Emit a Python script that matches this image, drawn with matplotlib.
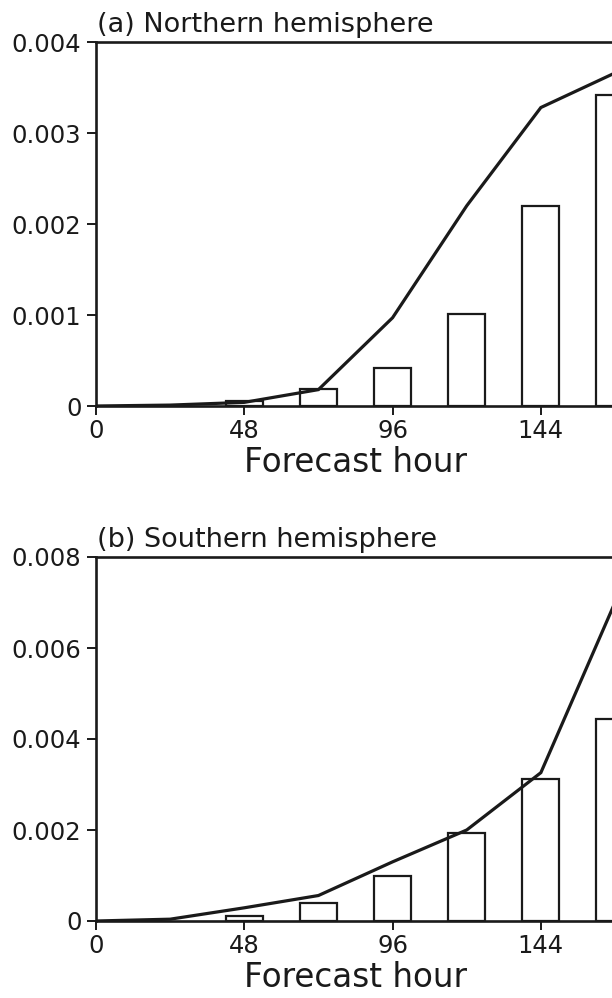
import matplotlib
matplotlib.use("Agg")
import matplotlib.pyplot as plt

plt.rcParams['font.family'] = ['DejaVu Sans']

line_hours = [0, 24, 48, 72, 96, 120, 144, 168]
bar_hours = [48, 72, 96, 120, 144, 168]

nh_line = [0.0, 0.00001, 0.00004, 0.00018, 0.00097, 0.00220, 0.00328, 0.00366]
nh_bars = [0.00006, 0.00019, 0.00042, 0.00101, 0.00220, 0.00342]

sh_line = [0.0, 0.00004, 0.00029, 0.00056, 0.00130, 0.00200, 0.00326, 0.00700]
sh_bars = [0.00012, 0.00040, 0.00099, 0.00194, 0.00311, 0.00444]

xticks = [0, 48, 96, 144]
xticklabels = ["0", "48", "96", "144"]
nh_yticks = [0, 0.001, 0.002, 0.003, 0.004]
nh_yticklabels = ["0", "0.001", "0.002", "0.003", "0.004"]
sh_yticks = [0, 0.002, 0.004, 0.006, 0.008]
sh_yticklabels = ["0", "0.002", "0.004", "0.006", "0.008"]

titles = ["(a) Northern hemisphere", "(b) Southern hemisphere"]
xlabel = "Forecast hour"

W, H = 612, 998
fig = plt.figure(figsize=(W / 100, H / 100), dpi=100)

def px_axes(left, top, right, bottom):
    return [left / W, 1 - bottom / H, (right - left) / W, (bottom - top) / H]

panels = [
    (px_axes(96, 42, 615, 406), nh_line, nh_bars, nh_yticks, nh_yticklabels, titles[0]),
    (px_axes(96, 557, 615, 921), sh_line, sh_bars, sh_yticks, sh_yticklabels, titles[1]),
]

for pos, lvals, bvals, yt, ytl, title in panels:
    ax = fig.add_axes(pos)
    ax.bar(bar_hours, bvals, width=12, facecolor='white', edgecolor='#1a1a1a',
           linewidth=1.6, zorder=2)
    ax.plot(line_hours, lvals, color='#1a1a1a', linewidth=2.3, zorder=3,
            solid_joinstyle='miter')
    ax.set_xlim(0, 168)
    ax.set_ylim(yt[0], yt[-1])
    ax.set_xticks(xticks)
    ax.set_xticklabels(xticklabels)
    ax.set_yticks(yt)
    ax.set_yticklabels(ytl)
    ax.tick_params(axis='both', direction='out', length=6.5, width=1.4,
                   labelsize=17.5, color='#1a1a1a', labelcolor='#1a1a1a')
    ax.tick_params(axis='x', pad=3)
    ax.tick_params(axis='y', pad=4)
    for sp in ax.spines.values():
        sp.set_linewidth(1.9)
        sp.set_color('#1a1a1a')
    ax.set_xlabel(xlabel, fontsize=23.5, color='#1a1a1a', labelpad=2)
    ax.annotate(title, xy=(0, 1), xycoords='axes fraction',
                xytext=(0.5, 7.5), textcoords='offset points',
                ha='left', va='baseline', fontsize=19.5, color='#1a1a1a')

fig.savefig("out.png", dpi=100)
